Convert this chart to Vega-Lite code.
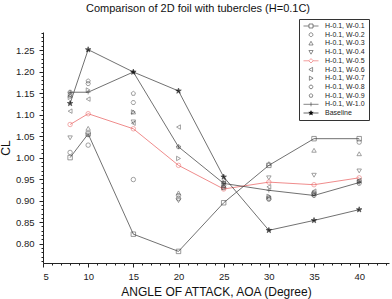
{
  "$schema": "https://vega.github.io/schema/vega-lite/v6.json",
  "width": 346,
  "height": 231,
  "autosize": "none",
  "padding": {"left": 43, "top": 32, "right": 3, "bottom": 36},
  "background": "white",
  "config": {
    "font": "Liberation Sans",
    "view": {"stroke": null},
    "axis": {"grid": false, "domainColor": "#222", "tickColor": "#222", "labelColor": "#222", "titleColor": "#111", "labelFont": "Liberation Sans", "titleFont": "Liberation Sans", "titleFontWeight": "normal", "domainWidth": 1, "tickWidth": 1},
    "legend": {"padding": 3.5, "strokeColor": "#333", "fillColor": "white", "symbolSize": 16, "symbolStrokeWidth": 0.6, "symbolOpacity": 1, "labelFontSize": 7, "labelFont": "Liberation Sans", "labelColor": "#222", "labelOffset": 10.5, "rowPadding": 0.7, "symbolOffset": 5, "titlePadding": 0}
  },
  "title": {"text": "Comparison of 2D foil with tubercles (H=0.1C)", "fontSize": 11, "fontWeight": "normal", "font": "Liberation Sans", "color": "#111", "anchor": "middle", "frame": "group", "dx": -18, "offset": 5},
  "data": {"values": [
    {"s": "H-0.1, W-0.1", "x": 8, "y": 1.0}, {"s": "H-0.1, W-0.1", "x": 10, "y": 1.055}, {"s": "H-0.1, W-0.1", "x": 15, "y": 0.822}, {"s": "H-0.1, W-0.1", "x": 20, "y": 0.782}, {"s": "H-0.1, W-0.1", "x": 25, "y": 0.895}, {"s": "H-0.1, W-0.1", "x": 30, "y": 0.982}, {"s": "H-0.1, W-0.1", "x": 35, "y": 1.044}, {"s": "H-0.1, W-0.1", "x": 40, "y": 1.044},
    {"s": "H-0.1, W-0.2", "x": 8, "y": 1.012}, {"s": "H-0.1, W-0.2", "x": 10, "y": 1.029}, {"s": "H-0.1, W-0.2", "x": 15, "y": 0.949}, {"s": "H-0.1, W-0.2", "x": 20, "y": 0.905}, {"s": "H-0.1, W-0.2", "x": 25, "y": 0.93}, {"s": "H-0.1, W-0.2", "x": 30, "y": 0.905}, {"s": "H-0.1, W-0.2", "x": 35, "y": 0.918}, {"s": "H-0.1, W-0.2", "x": 40, "y": 1.036},
    {"s": "H-0.1, W-0.3", "x": 8, "y": 1.145}, {"s": "H-0.1, W-0.3", "x": 10, "y": 1.068}, {"s": "H-0.1, W-0.3", "x": 15, "y": 1.106}, {"s": "H-0.1, W-0.3", "x": 20, "y": 0.918}, {"s": "H-0.1, W-0.3", "x": 25, "y": 0.935}, {"s": "H-0.1, W-0.3", "x": 30, "y": 0.986}, {"s": "H-0.1, W-0.3", "x": 35, "y": 1.017}, {"s": "H-0.1, W-0.3", "x": 40, "y": 1.009},
    {"s": "H-0.1, W-0.4", "x": 8, "y": 1.046}, {"s": "H-0.1, W-0.4", "x": 10, "y": 1.052}, {"s": "H-0.1, W-0.4", "x": 15, "y": 1.083}, {"s": "H-0.1, W-0.4", "x": 20, "y": 0.9}, {"s": "H-0.1, W-0.4", "x": 25, "y": 0.94}, {"s": "H-0.1, W-0.4", "x": 30, "y": 0.953}, {"s": "H-0.1, W-0.4", "x": 35, "y": 0.959}, {"s": "H-0.1, W-0.4", "x": 40, "y": 0.969},
    {"s": "H-0.1, W-0.5", "x": 8, "y": 1.077}, {"s": "H-0.1, W-0.5", "x": 10, "y": 1.102}, {"s": "H-0.1, W-0.5", "x": 15, "y": 1.067}, {"s": "H-0.1, W-0.5", "x": 20, "y": 0.982}, {"s": "H-0.1, W-0.5", "x": 25, "y": 0.927}, {"s": "H-0.1, W-0.5", "x": 30, "y": 0.943}, {"s": "H-0.1, W-0.5", "x": 35, "y": 0.937}, {"s": "H-0.1, W-0.5", "x": 40, "y": 0.953},
    {"s": "H-0.1, W-0.6", "x": 8, "y": 1.108}, {"s": "H-0.1, W-0.6", "x": 10, "y": 1.136}, {"s": "H-0.1, W-0.6", "x": 15, "y": 1.08}, {"s": "H-0.1, W-0.6", "x": 20, "y": 1.071}, {"s": "H-0.1, W-0.6", "x": 25, "y": 0.945}, {"s": "H-0.1, W-0.6", "x": 30, "y": 0.932}, {"s": "H-0.1, W-0.6", "x": 35, "y": 0.922}, {"s": "H-0.1, W-0.6", "x": 40, "y": 0.947},
    {"s": "H-0.1, W-0.7", "x": 8, "y": 1.14}, {"s": "H-0.1, W-0.7", "x": 10, "y": 1.157}, {"s": "H-0.1, W-0.7", "x": 15, "y": 1.106}, {"s": "H-0.1, W-0.7", "x": 20, "y": 0.998}, {"s": "H-0.1, W-0.7", "x": 25, "y": 0.93}, {"s": "H-0.1, W-0.7", "x": 30, "y": 0.91}, {"s": "H-0.1, W-0.7", "x": 35, "y": 0.915}, {"s": "H-0.1, W-0.7", "x": 40, "y": 0.944},
    {"s": "H-0.1, W-0.8", "x": 8, "y": 1.152}, {"s": "H-0.1, W-0.8", "x": 10, "y": 1.172}, {"s": "H-0.1, W-0.8", "x": 15, "y": 1.128}, {"s": "H-0.1, W-0.8", "x": 20, "y": 0.912}, {"s": "H-0.1, W-0.8", "x": 25, "y": 0.935}, {"s": "H-0.1, W-0.8", "x": 30, "y": 0.903}, {"s": "H-0.1, W-0.8", "x": 35, "y": 0.912}, {"s": "H-0.1, W-0.8", "x": 40, "y": 0.94},
    {"s": "H-0.1, W-0.9", "x": 8, "y": 1.147}, {"s": "H-0.1, W-0.9", "x": 10, "y": 1.178}, {"s": "H-0.1, W-0.9", "x": 15, "y": 1.149}, {"s": "H-0.1, W-0.9", "x": 20, "y": 1.025}, {"s": "H-0.1, W-0.9", "x": 25, "y": 0.94}, {"s": "H-0.1, W-0.9", "x": 30, "y": 0.908}, {"s": "H-0.1, W-0.9", "x": 35, "y": 0.916}, {"s": "H-0.1, W-0.9", "x": 40, "y": 0.945},
    {"s": "H-0.1, W-1.0", "x": 8, "y": 1.152}, {"s": "H-0.1, W-1.0", "x": 10, "y": 1.152}, {"s": "H-0.1, W-1.0", "x": 15, "y": 1.199}, {"s": "H-0.1, W-1.0", "x": 20, "y": 1.025}, {"s": "H-0.1, W-1.0", "x": 25, "y": 0.94}, {"s": "H-0.1, W-1.0", "x": 30, "y": 0.924}, {"s": "H-0.1, W-1.0", "x": 35, "y": 0.912}, {"s": "H-0.1, W-1.0", "x": 40, "y": 0.942},
    {"s": "Baseline", "x": 8, "y": 1.126}, {"s": "Baseline", "x": 10, "y": 1.251}, {"s": "Baseline", "x": 15, "y": 1.199}, {"s": "Baseline", "x": 20, "y": 1.155}, {"s": "Baseline", "x": 25, "y": 0.955}, {"s": "Baseline", "x": 30, "y": 0.831}, {"s": "Baseline", "x": 35, "y": 0.854}, {"s": "Baseline", "x": 40, "y": 0.879}
  ]},
  "resolve": {"scale": {"shape": "independent", "stroke": "independent", "fill": "independent"}, "axis": {"x": "independent", "y": "independent"}},
  "layer": [
    {
      "mark": {"type": "point", "opacity": 0},
      "encoding": {
        "x": {"field": "x", "type": "quantitative", "scale": {"domain": [5, 43.3], "nice": false, "zero": false}, "axis": {"orient": "bottom", "values": [6,7,8,9,11,12,13,14,16,17,18,19,21,22,23,24,26,27,28,29,31,32,33,34,36,37,38,39,41,42,43], "labels": false, "tickSize": 2, "domain": false, "title": null}},
        "y": {"field": "y", "type": "quantitative", "scale": {"domain": [0.755, 1.292], "nice": false, "zero": false}, "axis": {"orient": "left", "values": [0.76,0.77,0.78,0.79,0.81,0.82,0.83,0.84,0.86,0.87,0.88,0.89,0.91,0.92,0.93,0.94,0.96,0.97,0.98,0.99,1.01,1.02,1.03,1.04,1.06,1.07,1.08,1.09,1.11,1.12,1.13,1.14,1.16,1.17,1.18,1.19,1.21,1.22,1.23,1.24,1.26,1.27,1.28,1.29], "labels": false, "tickSize": 2, "domain": false, "title": null}}
      }
    },
    {
      "transform": [{"filter": {"field": "s", "oneOf": ["H-0.1, W-0.1", "H-0.1, W-0.5", "H-0.1, W-1.0", "Baseline"]}}],
      "mark": {"type": "line", "strokeWidth": 0.7},
      "encoding": {
        "x": {"field": "x", "type": "quantitative", "axis": {"orient": "bottom", "values": [5,10,15,20,25,30,35,40], "tickSize": 4, "labelFontSize": 9.5, "labelPadding": 4, "title": "ANGLE OF ATTACK, AOA (Degree)", "titleFontSize": 12, "titlePadding": 6}},
        "y": {"field": "y", "type": "quantitative", "axis": {"orient": "left", "values": [0.8,0.85,0.9,0.95,1.0,1.05,1.1,1.15,1.2,1.25], "format": ".2f", "tickSize": 4, "labelFontSize": 9.5, "labelPadding": 5, "title": "CL", "titleFontSize": 12, "titlePadding": 3}},
        "stroke": {"field": "s", "type": "nominal", "legend": null, "scale": {"domain": ["H-0.1, W-0.1", "H-0.1, W-0.5", "H-0.1, W-1.0", "Baseline"], "range": ["#333", "#e85a5a", "#333", "#333"]}},
        "detail": {"field": "s"}
      }
    },
    {
      "mark": {"type": "point", "filled": false, "size": 20, "strokeWidth": 0.7},
      "encoding": {
        "x": {"field": "x", "type": "quantitative", "axis": null},
        "y": {"field": "y", "type": "quantitative", "axis": null},
        "shape": {"field": "s", "type": "nominal", "legend": null, "scale": {"domain": ["H-0.1, W-0.1", "H-0.1, W-0.2", "H-0.1, W-0.3", "H-0.1, W-0.4", "H-0.1, W-0.5", "H-0.1, W-0.6", "H-0.1, W-0.7", "H-0.1, W-0.8", "H-0.1, W-0.9", "H-0.1, W-1.0", "Baseline"], "range": ["square", "circle", "triangle-up", "triangle-down", "circle", "triangle-left", "triangle-right", "M-1,0L-0.5,-0.87L0.5,-0.87L1,0L0.5,0.87L-0.5,0.87Z", "M0,-1L0.95,-0.31L0.59,0.81L-0.59,0.81L-0.95,-0.31Z", "M-1,0H1M0,-1V1", "M0,-1.3L0.3,-0.42L1.24,-0.4L0.49,0.16L0.76,1.05L0,0.52L-0.76,1.05L-0.49,0.16L-1.24,-0.4L-0.3,-0.42Z"]}},
        "stroke": {"field": "s", "type": "nominal", "legend": null, "scale": {"domain": ["H-0.1, W-0.1", "H-0.1, W-0.2", "H-0.1, W-0.3", "H-0.1, W-0.4", "H-0.1, W-0.5", "H-0.1, W-0.6", "H-0.1, W-0.7", "H-0.1, W-0.8", "H-0.1, W-0.9", "H-0.1, W-1.0", "Baseline"], "range": ["#333", "#444", "#444", "#444", "#e85a5a", "#444", "#444", "#444", "#444", "#333", "#000"]}},
        "fill": {"field": "s", "type": "nominal", "legend": null, "scale": {"domain": ["H-0.1, W-0.1", "H-0.1, W-0.2", "H-0.1, W-0.3", "H-0.1, W-0.4", "H-0.1, W-0.5", "H-0.1, W-0.6", "H-0.1, W-0.7", "H-0.1, W-0.8", "H-0.1, W-0.9", "H-0.1, W-1.0", "Baseline"], "range": ["transparent", "transparent", "transparent", "transparent", "transparent", "transparent", "transparent", "transparent", "transparent", "transparent", "#000"]}}
      }
    },
    {
      "mark": {"type": "point", "filled": false, "opacity": 0, "size": 16},
      "encoding": {
        "x": {"field": "x", "type": "quantitative", "axis": null},
        "y": {"field": "y", "type": "quantitative", "axis": null},
        "shape": {"field": "s", "type": "nominal", "title": null, "scale": {"domain": ["H-0.1, W-0.1", "H-0.1, W-0.2", "H-0.1, W-0.3", "H-0.1, W-0.4", "H-0.1, W-0.5", "H-0.1, W-0.6", "H-0.1, W-0.7", "H-0.1, W-0.8", "H-0.1, W-0.9", "H-0.1, W-1.0", "Baseline"], "range": [
          "M-3.75,0H-1M1,0H3.75M-1,-1H1V1H-1Z",
          "M-0.95,0A0.95,0.95 0 1,0 0.95,0A0.95,0.95 0 1,0 -0.95,0Z",
          "M0,-1.05L1.05,0.8L-1.05,0.8Z",
          "M0,1.05L1.05,-0.8L-1.05,-0.8Z",
          "M-3.75,0H-1.1M1.1,0H3.75M-1.1,0L0,-1.1L1.1,0L0,1.1Z",
          "M-1.05,0L0.8,-1.05L0.8,1.05Z",
          "M1.05,0L-0.8,-1.05L-0.8,1.05Z",
          "M-1,0L-0.5,-0.87L0.5,-0.87L1,0L0.5,0.87L-0.5,0.87Z",
          "M0,-1L0.95,-0.31L0.59,0.81L-0.59,0.81L-0.95,-0.31Z",
          "M-3.75,0H3.75M0,-1V1",
          "M-3.75,0H3.75M0,-1.15L0.27,-0.38L1.1,-0.35L0.43,0.15L0.68,0.95L0,0.46L-0.68,0.95L-0.43,0.15L-1.1,-0.35L-0.27,-0.38Z"
        ]}, "legend": {"orient": "none", "legendX": 256, "legendY": -13}},
        "stroke": {"field": "s", "type": "nominal", "title": null, "scale": {"domain": ["H-0.1, W-0.1", "H-0.1, W-0.2", "H-0.1, W-0.3", "H-0.1, W-0.4", "H-0.1, W-0.5", "H-0.1, W-0.6", "H-0.1, W-0.7", "H-0.1, W-0.8", "H-0.1, W-0.9", "H-0.1, W-1.0", "Baseline"], "range": ["#333", "#444", "#444", "#444", "#e85a5a", "#444", "#444", "#444", "#444", "#333", "#000"]}, "legend": {"orient": "none", "legendX": 256, "legendY": -13}},
        "fill": {"field": "s", "type": "nominal", "title": null, "scale": {"domain": ["H-0.1, W-0.1", "H-0.1, W-0.2", "H-0.1, W-0.3", "H-0.1, W-0.4", "H-0.1, W-0.5", "H-0.1, W-0.6", "H-0.1, W-0.7", "H-0.1, W-0.8", "H-0.1, W-0.9", "H-0.1, W-1.0", "Baseline"], "range": ["transparent", "transparent", "transparent", "transparent", "transparent", "transparent", "transparent", "transparent", "transparent", "transparent", "#000"]}, "legend": {"orient": "none", "legendX": 256, "legendY": -13}}
      }
    }
  ]
}
